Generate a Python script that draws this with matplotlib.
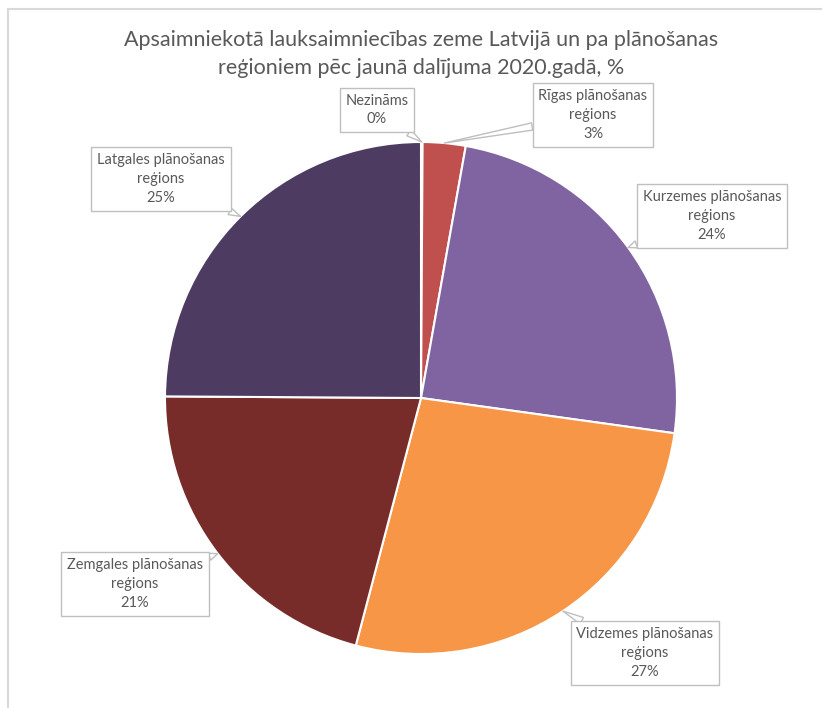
import matplotlib.pyplot as plt
from matplotlib.patches import Rectangle
import numpy as np

plt.rcParams['font.family'] = ['Lato', 'DejaVu Sans']

# Data
regions = ["Nezināms", "Rīgas plānošanas\nreģions", "Kurzemes plānošanas\nreģions",
           "Vidzemes plānošanas\nreģions", "Zemgales plānošanas\nreģions",
           "Latgales plānošanas\nreģions"]
shares = [0.1, 2.7, 24.4, 26.9, 21.0, 24.9]
pct_labels = ["0%", "3%", "24%", "27%", "21%", "25%"]
colors = ["#9bbb59", "#c0504d", "#8064a2", "#f79646", "#772c2a", "#4d3b62"]

# label box centres (pixels, from top-left)
label_pos = [(377, 110), (593, 115), (712, 216), (645, 653), (135, 584), (161, 179)]

W, H = 822, 708
fig = plt.figure(figsize=(W / 100, H / 100), dpi=100)
ax = fig.add_axes([0, 0, 1, 1])
ax.axis("off")

# chart frame (only top and left edges are visible)
ax.add_patch(Rectangle((8, -20), W, H - 9 + 20, fill=False, ec="#d9d9d9", lw=1.5))

cx, cy, r = 421, H - 398, 256
wedges, _ = ax.pie(shares, colors=colors, startangle=90, counterclock=False,
                   center=(cx, cy), radius=r,
                   wedgeprops=dict(edgecolor="white", linewidth=1.5))
ax.set_xlim(0, W)
ax.set_ylim(0, H)
ax.set_aspect("equal")

for w, name, pct, (lx, ly) in zip(wedges, regions, pct_labels, label_pos):
    ang = np.deg2rad((w.theta1 + w.theta2) / 2)
    px = cx + r * np.cos(ang)
    py = cy + r * np.sin(ang)
    ax.annotate(name + "\n" + pct, xy=(px, py), xytext=(lx, H - ly),
                ha="center", va="center", fontsize=10.5, color="#595959",
                linespacing=1.45,
                bbox=dict(boxstyle="square,pad=0.4", fc="white", ec="#bfbfbf", lw=1),
                arrowprops=dict(arrowstyle="wedge,tail_width=0.5,shrink_factor=0.5",
                                fc="white", ec="#bfbfbf", lw=1,
                                shrinkA=0, shrinkB=0))

ax.text(421, H - 54, "Apsaimniekotā lauksaimniecības zeme Latvijā un pa plānošanas\n"
        "reģioniem pēc jaunā dalījuma 2020.gadā, %",
        ha="center", va="center", fontsize=15.5, color="#595959", linespacing=1.5)

fig.savefig("out.png", dpi=100)
